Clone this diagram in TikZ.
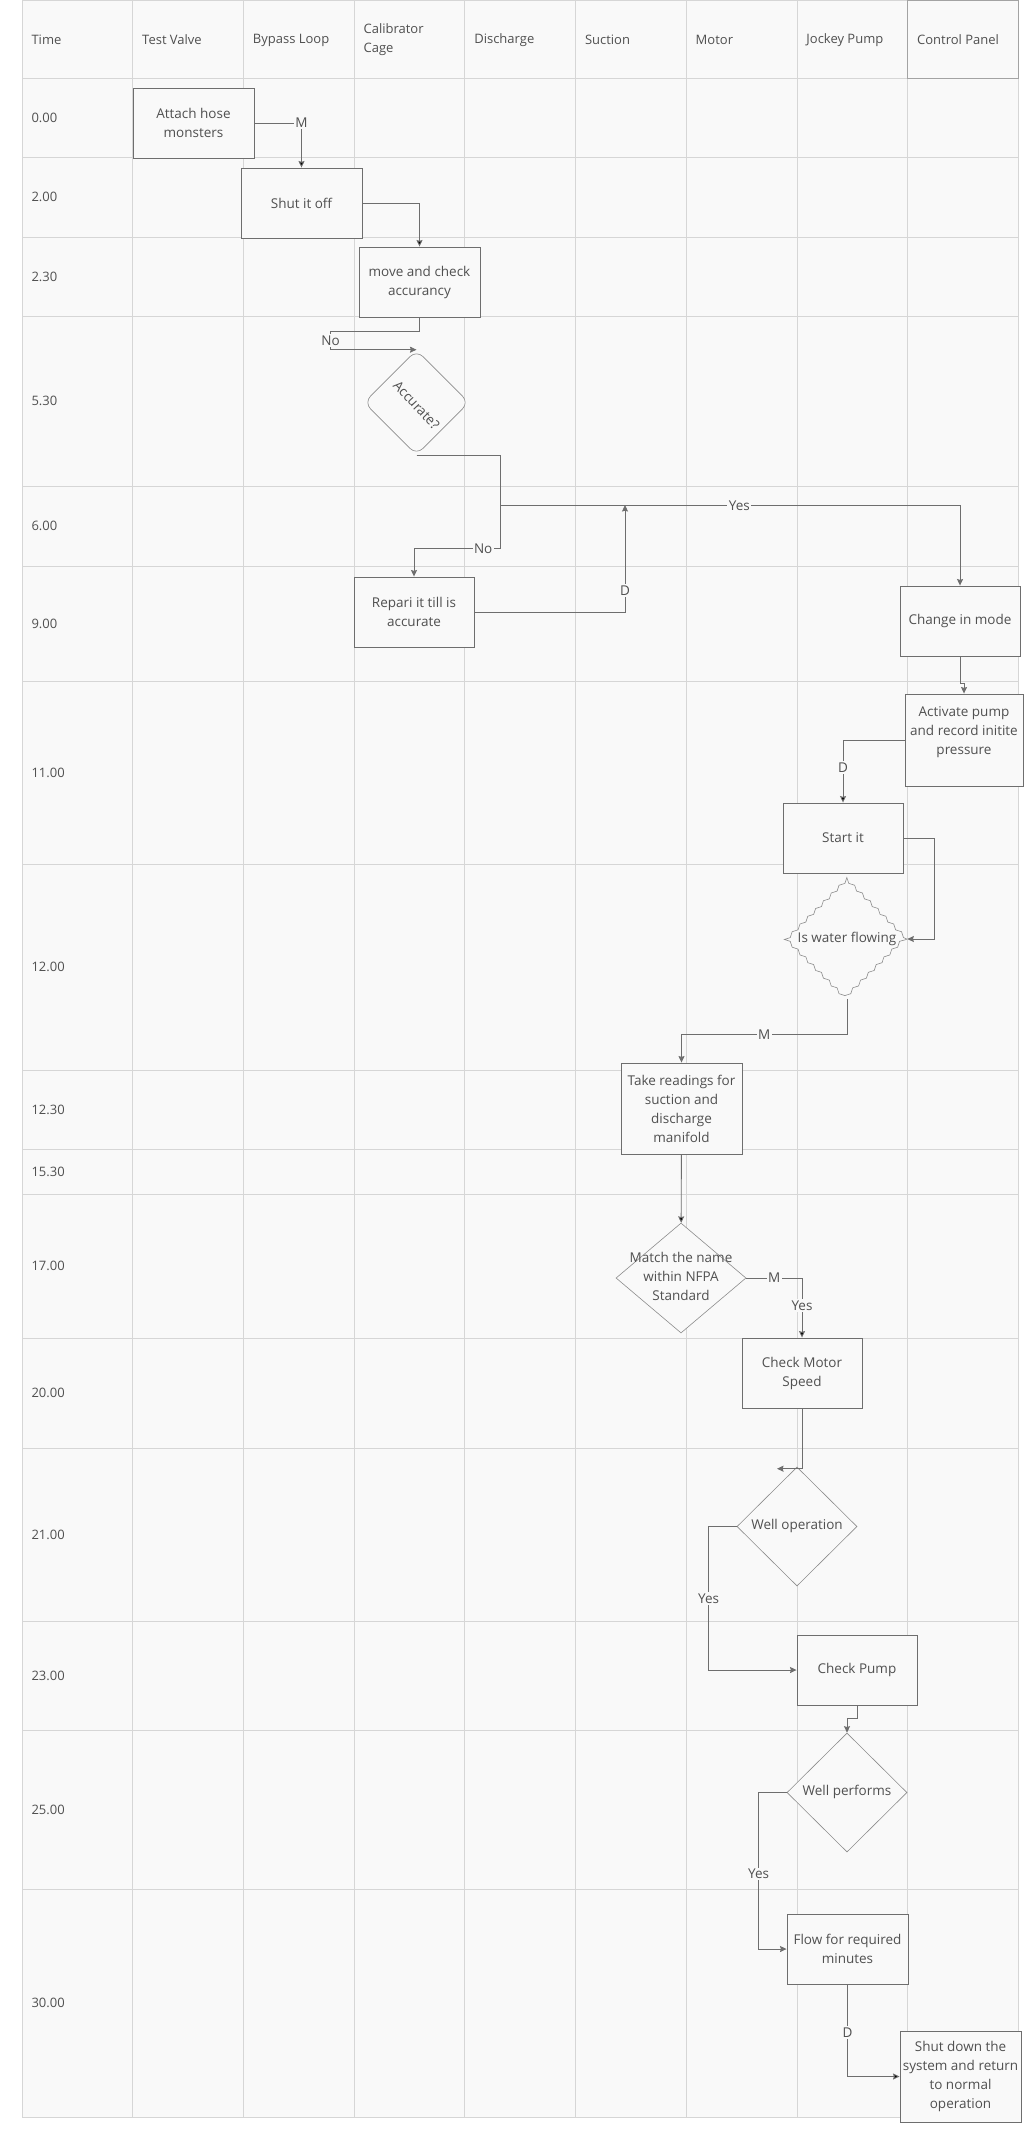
\documentclass[tikz,border=0pt]{standalone}
\usepackage{fontspec}
\setmainfont{Open Sans}
\usetikzlibrary{arrows.meta}
\usetikzlibrary{shapes.geometric, decorations.pathmorphing}

\definecolor{cellbg}{HTML}{F9F9F9}
\definecolor{gridln}{HTML}{D6D6D6}
\definecolor{hdrln}{HTML}{A3A3A3}
\definecolor{boxln}{HTML}{6E6E6E}
\definecolor{dmdln}{HTML}{8C8C8C}
\definecolor{txt}{HTML}{505050}
\newcommand{\nosize}[1]{\raisebox{-3pt}[0pt][0pt]{\makebox[0pt]{\begin{tabular}{@{}c@{}}#1\end{tabular}}}}

\begin{document}
\begin{tikzpicture}[x=1pt,y=-1pt,>={Stealth[length=6.5pt,width=6pt,inset=0.8pt]},
                grid/.style={draw=gridln,line width=0.8pt},
                head/.style={anchor=west,align=left,text=txt,font=\fontsize{13}{19}\selectfont},
                main node/.style={rectangle,draw=boxln,fill=cellbg,line width=0.9pt,minimum width=121pt,
                  minimum height=70pt,inner sep=2pt,align=center,text=txt,font=\fontsize{13.5}{19}\selectfont},
                choice node/.style={diamond,draw=dmdln,fill=cellbg,line width=0.6pt,inner sep=0pt,
                  minimum width=120pt,minimum height=119pt,text=txt,font=\fontsize{13.5}{19}\selectfont},
                wavy/.style={decorate,decoration={snake,segment length=11pt,amplitude=1.4pt}},
                link/.style={->,draw=boxln,line width=0.9pt},
                lbl/.style={fill=cellbg,inner sep=1.5pt,text=txt,font=\fontsize{13.5}{16}\selectfont},
                hv/.style={to path={-| (\tikztotarget) \tikztonodes}},
                vh/.style={to path={|- (\tikztotarget) \tikztonodes}}]

  \useasboundingbox (0,0) rectangle (1023,2147);
  \fill[cellbg] (22,0.5) rectangle (1018,2117);
  \draw[grid] (22,78.5) -- (1018,78.5);
  \foreach \i in {1,...,8}
    \draw[grid] ({22+110.7*\i},0.5) -- ({22+110.7*\i},2117);
  \foreach \t [count=\i from 0] in {Time,Test Valve,Bypass Loop,{Calibrator\\Cage},Discharge,
      Suction,Motor,Jockey Pump,Control Panel}
    \node[head] (h\i) at ({28+110.7*\i},40) {\t};
  \foreach \a/\b/\t [count=\i] in {78.5/157.5/0.00,157.5/237/2.00,237/316/2.30,316/486/5.30,
      486/566/6.00,566/681/9.00,681/864/11.00,864/1070/12.00,1070/1149/12.30,1149/1194/15.30,
      1194/1338/17.00,1338/1448/20.00,1448/1621/21.00,1621/1730/23.00,1730/1889/25.00,1889/2117/30.00} {
    \draw[grid] (22,\b) -- (1018,\b);
    \node[head] (t\i) at (28,{(\a+\b)/2}) {\t};
  }
  \draw[grid] (22,0.5) rectangle (1018,2117);
  \draw[draw=hdrln,line width=0.8pt] (907.6,0.5) rectangle (1018,78.5);

  \node[main node] (1) at (193.5,123) {Attach hose\\monsters};
  \node[main node] (2) at (301.5,203) {Shut it off};
  \node[main node] (3) at (419.5,282) {move and check\\accurancy};
  \node[choice node,rounded corners=9pt,minimum width=105pt,minimum height=105pt] (4)
    at (416.5,402.5) {\nosize{\rotatebox{-47}{Accurate?}}};
  \node[main node,minimum width=120pt] (5) at (414,612) {Repari it till is\\accurate};
  \node[main node,minimum width=120pt] (6) at (960,621) {Change in mode};
  \node[main node,minimum width=118pt,minimum height=92pt] (7) at (964,740)
    {Activate pump\\and record initite\\pressure\\~};
  \node[main node,minimum width=120pt] (8) at (843,838) {Start it};
  \node[choice node,wavy] (9) at (847,939) {\nosize{Is water flowing}};
  \node[main node,minimum height=91pt] (10) at (681.5,1108.5)
    {Take readings for\\suction and\\discharge\\manifold};
  \node[choice node,minimum width=130pt,minimum height=110pt] (11) at (681,1278)
    {\nosize{Match the name\\within NFPA\\Standard}};
  \node[main node,minimum width=120pt] (12) at (802,1373) {Check Motor\\Speed};
  \node[choice node] (13) at (797,1526.5) {\nosize{Well operation}};
  \node[main node,minimum width=120pt] (14) at (857,1670) {Check Pump};
  \node[choice node] (15) at (847,1792.5) {\nosize{Well performs}};
  \node[main node] (16) at (847.5,1949) {Flow for required\\minutes};
  \node[main node,minimum height=91pt] (17) at (960.5,2076.5)
    {Shut down the\\system and return\\to normal\\operation};
  \coordinate (j) at (625,505);

  \path[link]
    (1) edge [hv] node [lbl] {M} (2)
    (2) edge [hv] (3)
    (7) edge [hv] node [lbl,pos=0.72] {D} (8)
    (10) edge (11)
    (11) edge [hv] node [lbl,pos=0.25] {M} node [lbl,pos=0.73] {Yes} (12)
    (16) edge [vh] node [lbl,pos=0.26] {D} (17);
  \draw[link] (3.south) -- ++(0,14) -| ([xshift=-86pt]4.north) node [lbl,pos=0.75] {No} -- (4.north);
  \draw[link] (4.south) -| ++(84,93) -| node [lbl,pos=0.1] {No} (5);
  \draw[link] (4.south) -| ++(84,50) -| node [lbl,pos=0.26] {Yes} (6);
  \draw[link] (5) -| node [lbl,pos=0.6] {D} (j);
  \draw[link] (6.south) -- ++(0,27) -| (7);
  \draw[link] (8) -| ([xshift=27pt]9.east) -- (9);
  \draw[link] (9.south) -- ++(0,36) -| node [lbl,pos=0.25] {M} (10);
  \draw[link] (12) |- ([xshift=-20pt,yshift=-2pt]13.north);
  \draw[link] (13) -| ([xshift=-88pt]14.west) node [lbl,pos=0.75] {Yes} -- (14);
  \draw[link] (14.south) -- ++(0,13) -| (15);
  \draw[link] (15) -| ([xshift=-28pt]16.west) node [lbl,pos=0.76] {Yes} -- (16);
\end{tikzpicture}
\end{document}
